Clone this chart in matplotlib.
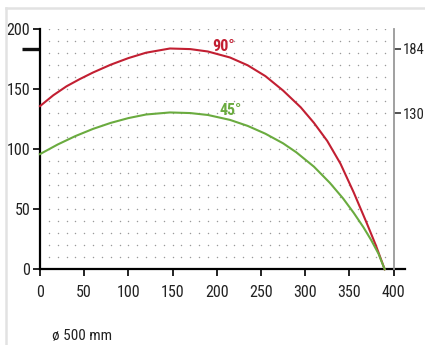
import numpy as np
import matplotlib
matplotlib.use('Agg')
import matplotlib.pyplot as plt
from matplotlib.lines import Line2D

plt.rcParams['font.family'] = ['Roboto Condensed', 'DejaVu Sans']

# curve 90 degrees
red_x = [0, 15, 30, 45, 60, 80, 100, 120, 147, 170, 190, 215, 235, 255, 275, 295, 310, 325, 340, 355, 370, 380, 390]
red_y = [136, 145, 152.5, 158.5, 164, 170.5, 176, 180.5, 184, 183.5, 181.5, 176.5, 170, 161, 149, 135, 122, 107, 88, 64, 38, 20, 0]
# curve 45 degrees
green_x = [0, 20, 40, 60, 80, 100, 120, 147, 170, 190, 215, 235, 255, 275, 290, 310, 328, 343, 355, 366, 375, 383, 390]
green_y = [96, 104, 111, 117, 122, 126, 129, 130.7, 130.2, 128.6, 124.5, 119.5, 113, 105, 97.5, 85.5, 72, 59, 47, 35, 24, 13, 0]
x_ticks = [0, 50, 100, 150, 200, 250, 300, 350, 400]
y_ticks = [0, 50, 100, 150, 200]
right_ticks = [130, 184]
labels = ['90°', '45°']

red = '#c21f32'
green = '#6aab3f'

fig = plt.figure(figsize=(4.25, 3.45), dpi=100)
ax = fig.add_axes([40 / 425, 75.7 / 345, 365 / 425, 240 / 345])
ax.set_xlim(0, 413)
ax.set_ylim(0, 200)

# dotted background
gx, gy = np.meshgrid(np.arange(10, 391, 10), np.arange(10, 201, 10))
ax.scatter(gx.ravel(), gy.ravel(), s=1.1, color='#9a9a9a', linewidths=0, zorder=1)

ax.plot(red_x, red_y, color=red, lw=1.5, zorder=3, clip_on=False)
ax.plot(green_x, green_y, color=green, lw=1.5, zorder=3, clip_on=False)
ax.text(208, 186, labels[0], color=red, fontsize=11.5, fontweight='bold', ha='center', va='center')
ax.text(216, 132, labels[1], color=green, fontsize=11.5, fontweight='bold', ha='center', va='center')

for s in ['top', 'right']:
    ax.spines[s].set_visible(False)
ax.spines['left'].set_linewidth(1.6)
ax.spines['bottom'].set_linewidth(1.6)
ax.set_xticks(x_ticks)
ax.set_yticks(y_ticks)
ax.tick_params(axis='both', direction='out', length=5, width=1.4, colors='#222222', labelsize=11.5)
ax.tick_params(axis='x', pad=6)
ax.tick_params(axis='y', pad=2)
ax.set_yticks([184], minor=True)
ax.tick_params(axis='y', which='minor', length=13, width=2.4, color='#111111')

ax2 = ax.twinx()
ax2.set_ylim(0, 200)
for s in ['top', 'left', 'bottom']:
    ax2.spines[s].set_visible(False)
ax2.spines['right'].set_position(('data', 400))
ax2.spines['right'].set_color('#999999')
ax2.spines['right'].set_linewidth(1.3)
ax2.set_yticks(right_ticks)
ax2.tick_params(axis='y', direction='out', length=5, width=1.2, color='#333333',
                labelcolor='#222222', labelsize=10.5, pad=2)

fig.text(52 / 425, 1 - 336 / 345, 'ø 500 mm', fontsize=11, color='#222222', ha='left', va='center')

# light frame
fig.add_artist(Line2D([6 / 425, 1], [1 - 8 / 345, 1 - 8 / 345], color='#e2e2e2', lw=1.8))
fig.add_artist(Line2D([6 / 425, 6 / 425], [0, 1 - 8 / 345], color='#e2e2e2', lw=1.8))

fig.savefig('out.png', dpi=100)
